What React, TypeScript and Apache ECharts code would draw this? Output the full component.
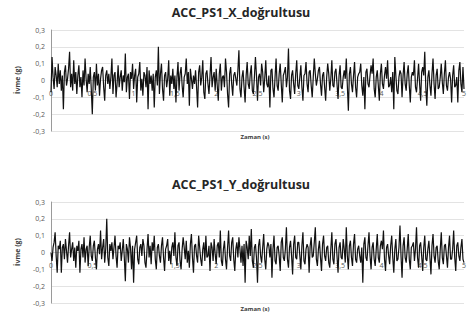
import React, { useEffect, useRef } from "react";
import * as echarts from "echarts";

const titles = ["ACC_PS1_X_doğrultusu", "ACC_PS1_Y_doğrultusu"];
const yAxisTitle = "İvme (g)";
const xAxisTitle = "Zaman (s)";
const sampleStep = 0.0125; // s between samples

const accX = [
  -0.07, 0.14, 0.02, -0.05, 0.08, 0.03, -0.04, 0.1, -0.02, 0.06, -0.06, 0.03, -0.17, 0.05, 0.09, -0.03, 0.01, 0.07, 0.17, -0.04,
  0.04, -0.06, 0.12, -0.02, 0.05, -0.08, 0.03, 0.09, -0.04, 0.02, -0.1, 0.06, -0.03, 0.13, 0.01, -0.07, 0.04, -0.02, 0.08, -0.05,
  -0.2, 0.02, 0.05, -0.06, 0.1, -0.03, 0.04, -0.09, 0.01, 0.06, 0.08, -0.04, -0.12, 0.03, 0.06, -0.02, 0.04, -0.05, 0.02, 0.13,
  -0.08, 0.03, 0.05, -0.1, -0.02, 0.09, -0.04, 0.02, 0.06, -0.06, 0.03, -0.01, 0.16, -0.07, 0.02, 0.04, -0.11, 0.05, 0.01, 0.1,
  -0.05, 0.03, 0.07, -0.13, 0.02, 0.04, 0.11, -0.06, 0.01, -0.09, 0.05, 0.03, -0.04, 0.08, -0.17, 0.06, -0.02, 0.03, -0.06, 0.04,
  -0.16, 0.02, 0.06, -0.03, 0.2, -0.08, 0.04, 0.1, -0.05, -0.12, 0.03, 0.05, -0.04, 0.01, 0.12, -0.09, 0.03, -0.02, 0.07, -0.05,
  0.03, -0.13, 0.02, 0.11, -0.06, 0.04, 0.08, -0.03, -0.1, 0.02, 0.04, 0.13, -0.02, 0.05, -0.15, 0.07, 0.01, -0.05, 0.03, -0.02,
  0.06, -0.04, -0.16, 0.05, 0.09, -0.03, 0.02, 0.12, -0.07, -0.11, 0.04, 0.06, -0.02, -0.08, 0.03, 0.14, -0.04, 0.02, 0.05, -0.06,
  0.07, -0.03, -0.12, 0.04, 0.1, -0.06, 0.02, 0.03, -0.04, 0.13, 0.05, -0.08, -0.16, 0.04, 0.08, -0.02, -0.09, 0.03, 0.05, 0.01,
  -0.03, 0.06, 0.18, -0.05, -0.1, 0.02, 0.06, -0.04, -0.13, 0.03, 0.11, -0.02, -0.05, 0.04, 0.09, -0.06, -0.08, 0.02, 0.14, 0.03,
  -0.12, 0.02, 0.04, -0.03, 0.1, 0.05, -0.07, 0.01, 0.12, -0.02, -0.04, 0.03, -0.16, 0.06, 0.07, -0.05, -0.1, 0.02, 0.13, -0.03,
  -0.06, 0.04, 0.1, -0.02, -0.13, 0.03, 0.05, 0.08, -0.04, 0.02, 0.19, -0.06, -0.11, 0.03, 0.06, -0.02, -0.08, 0.04, 0.12, -0.03,
  -0.05, 0.02, 0.09, -0.04, -0.12, 0.03, 0.04, 0.11, -0.02, -0.07, 0.05, 0.06, -0.03, -0.1, 0.02, 0.13, 0.04, -0.03, 0.01, 0.06,
  0.08, -0.02, -0.09, 0.03, 0.05, -0.04, -0.12, 0.02, 0.1, 0.04, -0.06, 0.01, 0.12, -0.03, -0.04, 0.05, 0.07, -0.02, -0.11, 0.03,
  0.09, -0.04, -0.05, 0.02, 0.06, 0.01, 0.13, -0.03, -0.18, 0.04, 0.08, -0.02, -0.07, 0.03, 0.11, -0.04, -0.1, 0.02, 0.04, 0.05,
  0.1, -0.03, -0.09, 0.02, -0.17, 0.05, 0.07, -0.02, -0.04, 0.03, 0.09, 0.04, 0.13, -0.05, -0.1, 0.02, 0.06, -0.03, -0.12, 0.04,
  0.1, -0.02, -0.05, 0.03, 0.08, 0.01, 0.12, -0.04, -0.03, 0.02, -0.07, 0.05, -0.17, 0.14, 0.03, -0.06, -0.08, 0.02, 0.06, 0.04,
  -0.1, 0.03, 0.11, -0.02, -0.06, 0.04, 0.09, -0.03, -0.13, 0.02, 0.05, 0.03, 0.12, -0.04, -0.07, 0.01, 0.1, -0.02, -0.12, 0.05,
  0.08, 0.03, 0.17, -0.04, -0.15, 0.02, 0.06, -0.03, -0.09, 0.04, 0.13, -0.02, -0.11, 0.03, 0.07, -0.05, -0.04, 0.02, 0.1, -0.01,
  -0.08, 0.04, 0.12, -0.03, -0.06, 0.02, 0.05, 0.01, -0.13, 0.03, 0.09, -0.04, -0.03, 0.02, -0.13, 0.06, 0.11, -0.02, -0.07, 0.08,
  -0.05,
];

const accY = [
  0, -0.05, 0.03, 0.06, 0.12, -0.02, -0.12, 0.04, 0.02, 0.07, -0.12, 0.03, 0.05, -0.04, 0.08, 0.01, -0.06, 0.04, 0.12, -0.03,
  0.02, 0.06, -0.05, 0.03, -0.09, 0.04, 0.01, 0.07, -0.12, 0.02, 0.05, -0.03, 0.09, -0.06, 0.02, 0.04, -0.08, 0.03, 0.1, -0.02,
  -0.05, 0.04, 0.07, -0.03, -0.1, 0.02, 0.05, -0.01, 0.13, -0.04, 0.03, 0.08, -0.06, 0.02, 0.2, -0.03, -0.08, 0.05, 0.01, 0.06,
  -0.04, 0.03, 0.1, -0.02, -0.09, 0.04, 0.02, 0.06, -0.05, 0.01, 0.08, -0.03, -0.17, 0.05, 0.02, -0.06, 0.09, 0.03, -0.1, 0.04,
  -0.18, 0.02, 0.06, 0.1, -0.04, -0.07, 0.03, 0.05, -0.02, 0.08, 0.04, -0.06, -0.09, 0.02, 0.11, -0.03, 0.04, -0.07, 0.06, 0.01,
  0.1, -0.04, -0.1, 0.03, 0.05, -0.02, -0.06, 0.04, 0.09, -0.03, -0.11, 0.02, 0.04, 0.08, -0.05, 0.01, -0.07, 0.03, 0.06, -0.02,
  0.12, -0.03, -0.08, 0.04, 0.06, -0.05, -0.1, 0.02, 0.09, 0.03, -0.04, 0.07, -0.06, 0.01, -0.09, 0.05, 0.11, -0.03, -0.12, 0.04,
  0.05, -0.02, -0.06, 0.1, 0.03, -0.04, -0.08, 0.02, 0.06, -0.05, 0.1, -0.03, -0.02, 0.04, -0.11, 0.06, 0.03, -0.05, 0.08, -0.01,
  -0.07, 0.04, 0.06, -0.03, 0.13, -0.05, -0.08, 0.02, 0.07, -0.04, -0.1, 0.03, 0.13, -0.02, -0.05, 0.06, 0.09, -0.04, -0.11, 0.02,
  0.06, -0.03, 0.09, 0.02, -0.06, 0.04, -0.08, 0.05, -0.18, 0.07, 0.03, -0.04, 0.1, -0.02, 0.14, -0.05, -0.09, 0.03, 0.05, -0.03,
  -0.18, 0.04, 0.08, -0.02, -0.06, 0.03, 0.11, -0.04, -0.1, 0.02, 0.06, 0.04, -0.03, 0.05, -0.15, 0.02, 0.1, -0.05, -0.07, 0.03,
  0.04, -0.02, -0.11, 0.06, 0.09, -0.03, -0.05, 0.02, 0.15, -0.04, -0.09, 0.03, 0.07, -0.02, -0.13, 0.05, 0.1, -0.03, -0.04, 0.06,
  0.06, -0.02, -0.1, 0.04, 0.12, -0.05, -0.07, 0.02, 0.05, 0.03, -0.12, 0.04, 0.09, -0.03, -0.02, 0.06, 0.15, -0.04, -0.08, 0.02,
  0.07, -0.03, -0.11, 0.05, 0.1, -0.02, -0.05, 0.03, 0.04, -0.06, -0.09, 0.02, 0.12, -0.04, -0.07, 0.05, 0.08, -0.02, -0.12, 0.03,
  0.06, -0.03, -0.04, 0.08, 0.02, -0.06, 0.15, -0.02, -0.1, 0.04, 0.07, -0.03, -0.08, 0.05, 0.11, -0.04, -0.06, 0.02, 0.04, -0.02,
  -0.06, 0.03, -0.18, 0.05, 0.09, -0.03, -0.05, 0.04, 0.12, -0.02, -0.1, 0.03, 0.06, -0.04, -0.08, 0.02, 0.11, -0.03, -0.06, 0.04,
  0.07, 0.02, 0.13, -0.04, -0.11, 0.03, 0.05, -0.02, -0.07, 0.04, 0.1, -0.03, -0.12, 0.02, 0.08, -0.05, -0.04, 0.03, 0.16, -0.02,
  -0.15, 0.04, 0.09, -0.03, -0.06, 0.02, 0.11, -0.04, -0.1, 0.03, 0.04, 0.06, -0.05, 0.02, 0.15, -0.03, -0.09, 0.04, 0.06, -0.02,
  -0.11, 0.03, 0.1, -0.04, -0.05, 0.02, 0.07, -0.03, -0.13, 0.04, 0.11, -0.02, -0.06, 0.03, 0.04, -0.05, -0.1, 0.02, 0.12, -0.03,
  -0.07, 0.04, 0.05, -0.02, -0.09, 0.03, 0.1, -0.04, -0.04, 0.02, 0.13, -0.03, -0.11, 0.04, 0.06, -0.02, -0.05, 0.03, 0.08, -0.04,
  -0.06,
];

const toPairs = (vals: number[]) => vals.map((v, i) => [+(i * sampleStep).toFixed(4), v]);

const fmtComma = (v: number) => {
  if (Math.abs(v) < 1e-9) return "0";
  if (Number.isInteger(v)) return String(v);
  return v.toFixed(1).replace(".", ",");
};

const FONT = "'Open Sans', 'Liberation Sans', sans-serif";
const PLOT_H = 101;
const grids = [
  { left: 51, right: 1, top: 30, height: PLOT_H },
  { left: 51, right: 1, top: 202, height: PLOT_H },
];

export default function App() {
  const ref = useRef<HTMLDivElement>(null);
  useEffect(() => {
    if (!ref.current) return;
    const chart = echarts.init(ref.current, undefined, { renderer: "svg" });
    const xAxes = grids.map((_, gi) => ({
      type: "value",
      gridIndex: gi,
      position: "bottom",
      min: 0,
      max: 5,
      interval: 0.5,
      // place the axis (line + labels) on the y = 0 line (middle of the plot)
      offset: -PLOT_H / 2,
      axisLine: { show: true, onZero: false, lineStyle: { color: "#d0d0d0", width: 1 } },
      axisTick: { show: false },
      splitLine: { show: false },
      axisLabel: { color: "#595959", fontSize: 7, fontFamily: FONT, margin: 9, formatter: fmtComma },
      z: 1,
    }));
    const yAxes = grids.map((_, gi) => ({
      type: "value",
      gridIndex: gi,
      min: -0.3,
      max: 0.3,
      interval: 0.1,
      axisLine: { show: true, onZero: false, lineStyle: { color: "#9a9a9a", width: 1 } },
      axisTick: { show: false },
      splitLine: { show: true, lineStyle: { color: "#e3e3e3", width: 1 } },
      axisLabel: { color: "#595959", fontSize: 7, fontFamily: FONT, margin: 6, formatter: fmtComma },
    }));
    const seriesData = [accX, accY];
    const graphicEls: any[] = [];
    titles.forEach((t, gi) => {
      const top = grids[gi].top;
      graphicEls.push({
        type: "text",
        x: 241,
        y: top - 18,
        style: { text: t, font: `bold 12.5px ${FONT}`, fill: "#262626", textAlign: "center", textVerticalAlign: "middle" },
      });
      graphicEls.push({
        type: "text",
        x: 17,
        y: top + 50,
        rotation: Math.PI / 2,
        style: { text: yAxisTitle, font: `bold 7px ${FONT}`, fill: "#404040", textAlign: "center", textVerticalAlign: "middle" },
      });
      graphicEls.push({
        type: "text",
        x: 255,
        y: top + 107,
        style: { text: xAxisTitle, font: `bold 6px ${FONT}`, fill: "#404040", textAlign: "center", textVerticalAlign: "middle" },
      });
    });
    chart.setOption({
      animation: false,
      backgroundColor: "#ffffff",
      grid: grids,
      xAxis: xAxes,
      yAxis: yAxes,
      series: seriesData.map((d, gi) => ({
        type: "line",
        xAxisIndex: gi,
        yAxisIndex: gi,
        data: toPairs(d),
        showSymbol: false,
        lineStyle: { color: "#111111", width: 1.2 },
        z: 3,
      })),
      graphic: graphicEls,
    });
    return () => chart.dispose();
  }, []);
  return <div ref={ref} style={{ position: "absolute", left: 0, top: 0, width: 469, height: 320 }} />;
}
